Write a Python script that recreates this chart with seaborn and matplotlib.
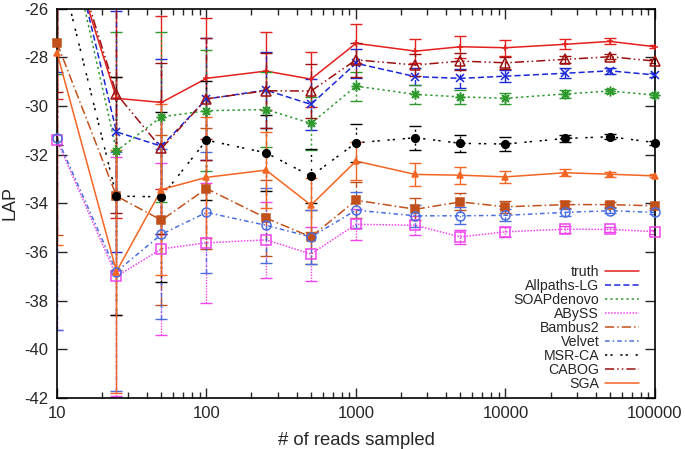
import seaborn as sns
import matplotlib.pyplot as plt
import numpy as np
from matplotlib.lines import Line2D

# number of reads sampled
reads = [10, 25, 50, 100, 250, 500, 1000, 2500, 5000, 10000, 25000, 50000, 100000]

truth = [-21.9, -29.68, -29.85, -28.86, -28.56, -28.89, -27.42, -27.74, -27.56, -27.6, -27.46, -27.34, -27.56]
allpaths = [-20.8, -31.06, -31.65, -29.71, -29.34, -29.93, -28.24, -28.79, -28.86, -28.77, -28.65, -28.55, -28.72]
soap = [-20.9, -31.84, -30.44, -30.19, -30.14, -30.71, -29.18, -29.52, -29.62, -29.68, -29.5, -29.38, -29.55]
abyss = [-31.4, -37.0, -35.87, -35.62, -35.5, -36.08, -34.86, -34.9, -35.38, -35.17, -35.06, -35.07, -35.16]
bambus = [-27.4, -33.7, -34.69, -33.39, -34.6, -35.38, -33.87, -34.24, -33.94, -34.14, -34.05, -34.05, -34.1]
velvet = [-31.3, -36.8, -35.27, -34.37, -34.9, -35.38, -34.28, -34.51, -34.51, -34.49, -34.37, -34.3, -34.37]
msrca = [-23.8, -33.7, -33.73, -31.4, -31.92, -32.88, -31.51, -31.3, -31.53, -31.56, -31.33, -31.26, -31.5]
cabog = [-21.6, -29.5, -31.74, -29.7, -29.37, -29.38, -28.1, -28.31, -28.15, -28.22, -28.08, -27.97, -28.15]
sga = [-27.8, -36.8, -33.43, -32.93, -32.63, -34.07, -32.26, -32.81, -32.84, -32.91, -32.74, -32.8, -32.87]

truth_err = [7.8, 4.9, 3.55, 2.5, 1.6, 1.13, 0.8, 0.5, 0.45, 0.32, 0.2, 0.12, 0.06]
allpaths_err = [7.8, 4.95, 3.6, 2.5, 1.58, 1.05, 0.6, 0.35, 0.4, 0.25, 0.2, 0.12, 0.08]
soap_err = [7.8, 4.9, 3.5, 2.48, 1.55, 1.1, 0.6, 0.4, 0.3, 0.22, 0.15, 0.1, 0.08]
abyss_err = [7.8, 4.9, 3.53, 2.47, 1.57, 1.12, 0.65, 0.4, 0.3, 0.2, 0.15, 0.1, 0.08]
bambus_err = [7.9, 4.9, 3.5, 2.5, 1.55, 1.1, 0.75, 0.45, 0.35, 0.25, 0.15, 0.1, 0.08]
velvet_err = [7.9, 4.9, 3.5, 2.5, 1.55, 1.1, 0.75, 0.45, 0.35, 0.25, 0.15, 0.1, 0.08]
msrca_err = [7.8, 4.9, 3.5, 2.45, 1.55, 1.1, 0.77, 0.5, 0.35, 0.28, 0.15, 0.1, 0.08]
cabog_err = [7.8, 4.9, 3.5, 2.5, 1.55, 1.1, 0.7, 0.45, 0.35, 0.25, 0.15, 0.1, 0.08]
sga_err = [7.9, 5.0, 3.5, 2.5, 1.55, 1.1, 0.77, 0.48, 0.35, 0.24, 0.15, 0.1, 0.06]

names = ['truth', 'Allpaths-LG', 'SOAPdenovo', 'ABySS', 'Bambus2', 'Velvet', 'MSR-CA', 'CABOG', 'SGA']
values = [truth, allpaths, soap, abyss, bambus, velvet, msrca, cabog, sga]
errors = [truth_err, allpaths_err, soap_err, abyss_err, bambus_err, velvet_err, msrca_err, cabog_err, sga_err]

# gnuplot-ish styles: colour, dash pattern, marker, marker size, filled
styles = [
    ('#e3201e', '-', '+', 5, True),
    ('#1c28d8', (0, (4, 2)), 'x', 6, True),
    ('#2e9a2e', (0, (1.5, 2)), (8, 2, 0), 7, True),
    ('#ee44ee', (0, (1, 1)), 's', 6.5, False),
    ('#c2501a', (0, (6, 2, 1, 2)), 's', 5.5, True),
    ('#4a6ee0', (0, (3, 2, 1, 2)), 'o', 6.5, False),
    ('#000000', (0, (1.5, 2, 1.5, 5)), 'o', 5.5, True),
    ('#9c1010', (0, (6, 2, 1, 2, 1, 2)), '^', 6.5, False),
    ('#f26522', '-', '^', 4, True),
]

sns.set_style('ticks')
plt.rcParams['font.family'] = ['Liberation Sans', 'DejaVu Sans']
plt.rcParams['axes.unicode_minus'] = False

fig = plt.figure(figsize=(6.85, 4.49), dpi=100)
ax = fig.add_axes([0.0832, 0.1136, 0.8730, 0.8668])

x = np.array(reads)
handles = []
for name, y, err, (col, ls, mk, ms, filled) in zip(names, values, errors, styles):
    y = np.array(y)
    sns.lineplot(x=x, y=y, ax=ax, color=col, linestyle=ls, linewidth=1.1,
                 errorbar=None, legend=False)
    eb = ax.errorbar(x, y, yerr=err, fmt='none', ecolor=col, elinewidth=1.0,
                     capsize=4.5, capthick=1.0)
    for lc in eb[2]:
        lc.set_linestyle(ls)
    vis = y <= -26
    ax.plot(x[vis], y[vis], linestyle='none', marker=mk, markersize=ms,
            markerfacecolor=col if filled else 'none', markeredgecolor=col,
            markeredgewidth=1.1, clip_on=False, zorder=3)
    handles.append(Line2D([], [], color=col, linestyle=ls, linewidth=1.1))

ax.set_xscale('log')
ax.set_xlim(10, 100000)
ax.set_ylim(-42, -26)
ax.set_xticks([10, 100, 1000, 10000, 100000])
ax.set_xticklabels(['10', '100', '1000', '10000', '100000'])
ax.set_yticks(np.arange(-42, -25, 2))
ax.tick_params(which='both', direction='in', top=True, right=True, labelsize=12,
               width=1.0, pad=6)
ax.tick_params(which='major', length=7)
ax.tick_params(which='minor', length=4)
ax.tick_params(axis='y', which='minor', left=False, right=False)
for sp in ax.spines.values():
    sp.set_linewidth(1.2)
    sp.set_color('black')

ax.set_xlabel('# of reads sampled', fontsize=13.3, labelpad=8)
ax.set_ylabel('LAP', fontsize=13, labelpad=4)

ax.legend(handles, names, loc='lower right', bbox_to_anchor=(0.985, 0.0),
          frameon=False, markerfirst=False, fontsize=10.2, handlelength=2.4,
          handletextpad=0.4, labelspacing=0.0, borderpad=0.2, borderaxespad=0.3)

plt.savefig('out.png', dpi=100)
